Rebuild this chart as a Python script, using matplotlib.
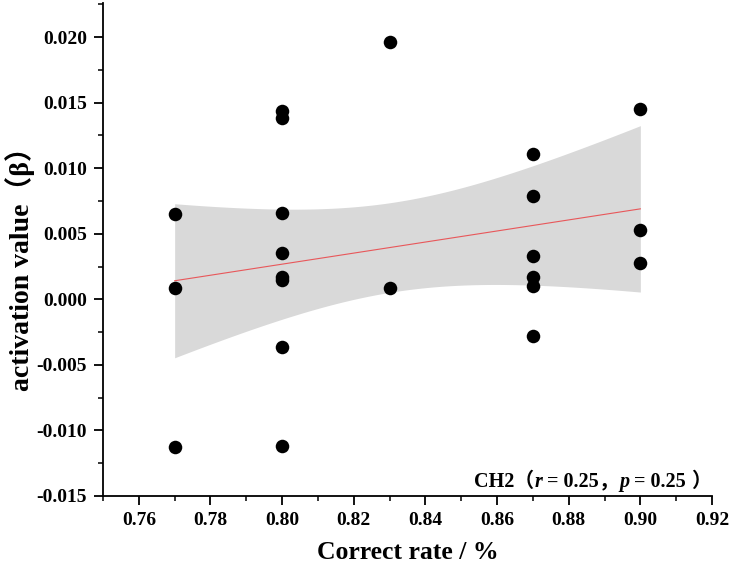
import numpy as np
import matplotlib
matplotlib.use("Agg")
import matplotlib.pyplot as plt
from matplotlib.ticker import MultipleLocator

plt.rcParams['font.family'] = ['Liberation Serif', 'Noto Sans CJK SC', 'DejaVu Sans']
plt.rcParams['font.weight'] = 'bold'

# correct rate (x) and activation value (y) per subject
correct_rate = [0.77, 0.77, 0.77,
                0.80, 0.80, 0.80, 0.80, 0.80, 0.80, 0.80, 0.80,
                0.83, 0.83,
                0.87, 0.87, 0.87, 0.87, 0.87, 0.87,
                0.90, 0.90, 0.90]
activation = [0.0065, 0.0009, -0.0113,
              0.0144, 0.0138, 0.0066, 0.0035, 0.0017, 0.0015, -0.0036, -0.0112,
              0.0196, 0.0009,
              0.0111, 0.0079, 0.0033, 0.0017, 0.0010, -0.0028,
              0.0145, 0.0053, 0.0028]
x_ticks = [0.76, 0.78, 0.80, 0.82, 0.84, 0.86, 0.88, 0.90, 0.92]
y_ticks = [-0.015, -0.010, -0.005, 0.000, 0.005, 0.010, 0.015, 0.020]
t_crit = 2.086  # 95%, df = 20
# annotation pieces: (text, kind) -- kind: 'rm', 'it' or 'cjk'
note_parts = [('CH2', 'rm'), ('（', 'cjk'), ('r', 'it'), (' = 0.25', 'rm'),
              ('，', 'cjk'), ('p', 'it'), (' = 0.25 ', 'rm'), ('）', 'cjk')]

x = np.array(correct_rate)
y = np.array(activation)
n = len(x)
slope, intercept = np.polyfit(x, y, 1)
xs = np.linspace(x.min(), x.max(), 200)
fit = slope * xs + intercept
resid = y - (slope * x + intercept)
s_err = np.sqrt(np.sum(resid ** 2) / (n - 2))
sxx = np.sum((x - x.mean()) ** 2)
ci = t_crit * s_err * np.sqrt(1.0 / n + (xs - x.mean()) ** 2 / sxx)

W, H = 734, 571
fig = plt.figure(figsize=(W / 100, H / 100), dpi=100)
ax = fig.add_axes([103 / W, 75 / H, 609 / W, 493 / H])

ax.fill_between(xs, fit - ci, fit + ci, color='#d9d9d9', lw=0, zorder=1)
ax.plot(xs, fit, color='#e8575a', lw=0.8, zorder=2)
ax.scatter(x, y, s=95, color='black', zorder=3, lw=0)

ax.set_xlim(0.75, 0.92)
ax.set_ylim(-0.015, 0.0226)
ax.set_xticks(x_ticks)
ax.set_yticks(y_ticks)
ax.set_xticklabels(['%.2f' % v for v in x_ticks])
ax.set_yticklabels(['%.3f' % v for v in y_ticks])
ax.xaxis.set_minor_locator(MultipleLocator(0.01))
ax.yaxis.set_minor_locator(MultipleLocator(0.0025))
ax.tick_params(which='major', direction='out', length=6.5, width=1.3, labelsize=14, pad=5)
ax.tick_params(which='minor', direction='out', length=3.5, width=1.1)

ax.spines['top'].set_visible(False)
ax.spines['right'].set_visible(False)
ax.spines['left'].set_linewidth(1.3)
ax.spines['bottom'].set_linewidth(1.3)

ax.set_xlabel('Correct rate / %', fontsize=18.5, fontweight='bold', labelpad=9)
ax.set_ylabel('activation value（β）', fontsize=20, fontweight='bold')
ax.yaxis.set_label_coords(-0.112, 0.475)

# annotation built piece by piece so r and p can be italic
fig.canvas.draw()
renderer = fig.canvas.get_renderer()
texts = []
for s, kind in note_parts:
    fam = 'Noto Sans CJK SC' if kind == 'cjk' else 'Liberation Serif'
    t = fig.text(0, 84 / H, s, ha='left', va='baseline', fontsize=14.5,
                 fontweight='bold', family=fam,
                 style='italic' if kind == 'it' else 'normal')
    texts.append(t)
widths = [t.get_window_extent(renderer).width for t in texts]
xpos = 711 - sum(widths)
for t, w in zip(texts, widths):
    t.set_x(xpos / W)
    xpos += w

fig.savefig('out.png', dpi=100)
